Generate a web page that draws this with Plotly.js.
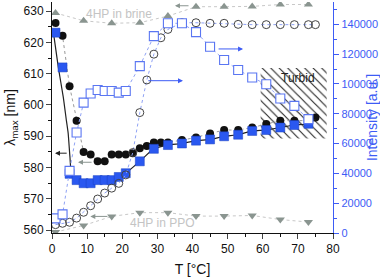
<!DOCTYPE html>
<html><head><meta charset="utf-8">
<script src="https://cdn.plot.ly/plotly-3.0.1.min.js"></script>
<style>html,body{margin:0;padding:0;background:#fff}#chart{width:380px;height:277px}</style>
</head><body><div id="chart"></div>
<script>
// λmax (left axis) – filled black circles
const circT = [1,3,5,7,9,11,13,15,17,19,21,23,25,27,29,31,33,37,41,45,49,53,57,61,65,69,73,75];
const circL = [626.2,622.1,606,595,585,584.2,582,582,584.2,584.2,584.2,584.6,586.2,586.9,588,588,588,588.8,589.6,590.9,592,592,592.8,593.9,595,595,595,596];
// λmax (left axis) – filled blue squares
const sqT = [1,3,5,7,9,11,13,15,17,19,21,25,29,33,37,41,45,49,53,57,61,65,69,73];
const sqL = [623.1,612,578,576,575,575,576,576,576,577,578.2,582,586,587.2,587.7,588.6,589,590,590.5,591.7,592,592.8,593.6,594];
// black solid guide curve
const fitT = [0.3,1.8,3.2,4.1,4.6,5.1,5.6,7,9,11,13,15,17,19,21,25,29,33,37,41,45,49,53,57,61,65,69,73,75];
const fitL = [624,612,602.6,595,591,583.5,577.6,576,575,575,576,576,576,577,578.2,582,586,587.2,587.7,588.6,589,590,590.5,591.7,592,592.8,593.6,594,595.5];
// Intensity (right axis) – open circles
const ocT = [1,3,5,7,9,11,13,15,17,19,21,23,25,27,29,31,33,37,41,45,49,53,57,61,65,69,73,75];
const ocI = [5600,6500,7200,10000,13900,18300,22800,26800,30100,33300,39000,54000,80800,102700,120000,131000,136600,141100,141100,140700,140700,140000,139800,139800,139800,139800,139800,139800];
// Intensity (right axis) – open squares
const osT = [1,3,5,7,9,11,13,15,17,19,21,25,29,33,37,41,45,49,53,57,61,65,69,73];
const osI = [9800,12500,41700,67400,87500,93600,96000,95300,95300,94200,95300,112000,132100,140700,140700,134800,125000,116100,109400,104300,99800,90200,85300,76400];
// 4HP in brine (left axis)
const brineT = [1,9,17,25,33,41,49,57,65,73];
const brineL = [629.4,626.9,626.1,626.3,628.4,631.4,631.4,631.5,632.1,632.1];
// 4HP in PPO (left axis)
const ppoT = [1,9,17,25,33,41,49,57,65,73];
const ppoL = [559.4,561.5,564.4,565.6,565.6,564.5,564.5,564.7,563.4,562.6];
// turbid region
const turbidT = [59.4,78.2];
const turbidL = [589.3,611.8];
// tick labels
const xTicks = [0,10,20,30,40,50,60,70,80];
const yTicks = [560,570,580,590,600,610,620,630];
const y2Ticks = [0,20000,40000,60000,80000,100000,120000,140000];

const BLUE = '#3d5cf5';
const GRAY = '#8a9590';
const FONT = 'Liberation Sans, Arial, sans-serif';

const traces = [
  {x:[turbidT[0],turbidT[1],turbidT[1],turbidT[0],turbidT[0]], y:[turbidL[1],turbidL[1],turbidL[0],turbidL[0],turbidL[1]],
   mode:'lines', fill:'toself', line:{width:0,color:'rgba(0,0,0,0)'}, fillcolor:'rgba(0,0,0,0)',
   fillpattern:{shape:'\\', size:6, solidity:0.18, fgcolor:'#222', bgcolor:'rgba(255,255,255,0)'},
   hoverinfo:'skip', xaxis:'x', yaxis:'y'},
  {x:brineT, y:brineL, mode:'lines+markers', line:{color:'#c8c8c8', width:1, dash:'dot'},
   marker:{symbol:'triangle-up', size:8, color:GRAY}},
  {x:ppoT, y:ppoL, mode:'lines+markers', line:{color:'#c8c8c8', width:1, dash:'dot'},
   marker:{symbol:'triangle-down', size:8, color:GRAY}},
  {x:ocT, y:ocI, yaxis:'y2', mode:'lines+markers', line:{color:'#8fa2f5', width:1, dash:'dot'},
   marker:{symbol:'circle-open', size:8, color:'#444', line:{width:1}}},
  {x:osT, y:osI, yaxis:'y2', mode:'lines+markers', line:{color:'#8fa2f5', width:1, dash:'dot'},
   marker:{symbol:'square', size:9, color:'#fff', line:{width:1.1, color:'#5a76f2'}}},
  {x:circT, y:circL, mode:'lines+markers', line:{color:'#999', width:1, dash:'dot'},
   marker:{symbol:'circle', size:8, color:'#111'}},
  {x:fitT, y:fitL, mode:'lines', line:{color:'#222', width:1.2, shape:'spline', smoothing:0.5}},
  {x:sqT, y:sqL, mode:'markers', marker:{symbol:'square', size:9, color:'#2a58f0', line:{width:0.5, color:'#1a40c0'}}}
];

const annotations = [
  {xref:'x', yref:'y', x:19.2, y:629.2, text:'4HP in brine', showarrow:false, font:{size:12,color:'#c4c4c4',family:FONT}},
  {xref:'x', yref:'y', x:31.3, y:562.4, text:'4HP in PPO', showarrow:false, font:{size:12,color:'#c4c4c4',family:FONT}},
  {xref:'x', yref:'y', x:70, y:608.7, text:'Turbid', showarrow:false, font:{size:12,color:'#222',family:FONT}},
  {xref:'x', yref:'y', x:0.85, y:584.6, ax:4.6, ay:584.6, axref:'x', ayref:'y', text:'', showarrow:true, arrowhead:2, arrowsize:1, arrowwidth:1, arrowcolor:'#222'},
  {xref:'x', yref:'y', x:7.4, y:581.7, ax:11.7, ay:581.7, axref:'x', ayref:'y', text:'', showarrow:true, arrowhead:2, arrowsize:1, arrowwidth:1, arrowcolor:GRAY},
  {xref:'x', yref:'y', x:35.0, y:631.7, ax:39.3, ay:631.7, axref:'x', ayref:'y', text:'', showarrow:true, arrowhead:2, arrowsize:1, arrowwidth:1, arrowcolor:GRAY},
  {xref:'x', yref:'y', x:10.9, y:564.4, ax:16.2, ay:564.4, axref:'x', ayref:'y', text:'', showarrow:true, arrowhead:2, arrowsize:1, arrowwidth:1, arrowcolor:GRAY},
  {xref:'x', yref:'y2', x:37.3, y:102200, ax:27.0, ay:102200, axref:'x', ayref:'y2', text:'', showarrow:true, arrowhead:2, arrowsize:1, arrowwidth:1, arrowcolor:BLUE},
  {xref:'x', yref:'y2', x:54.4, y:123500, ax:47.0, ay:123500, axref:'x', ayref:'y2', text:'', showarrow:true, arrowhead:2, arrowsize:1, arrowwidth:1, arrowcolor:BLUE}
];

const layout = {
  width:380, height:277,
  margin:{l:52, r:47, t:2, b:44},
  paper_bgcolor:'#fff', plot_bgcolor:'#fff',
  showlegend:false,
  font:{family:FONT, size:12, color:'#111'},
  xaxis:{range:[0,80], tickvals:xTicks, ticktext:xTicks.map(String), ticks:'outside', ticklen:5, tickwidth:1,
    showline:true, linecolor:'#111', linewidth:1, showgrid:false, zeroline:false,
    minor:{dtick:5, ticks:'outside', ticklen:3, tickcolor:'#111'},
    tickfont:{size:12}, title:{text:'T [°C]', font:{size:14}, standoff:8}},
  yaxis:{range:[559.1,632.9], tickvals:yTicks, ticktext:yTicks.map(String), ticks:'outside', ticklen:5, tickwidth:1,
    showline:true, linecolor:'#111', linewidth:1, showgrid:false, zeroline:false,
    minor:{dtick:5, ticks:'outside', ticklen:3, tickcolor:'#111'},
    tickfont:{size:12}, title:{text:'λ<sub>max</sub> [nm]', font:{size:14}, standoff:4}},
  yaxis2:{range:[0,155000], overlaying:'y', side:'right', tickvals:y2Ticks, ticktext:y2Ticks.map(String),
    ticks:'outside', ticklen:5, tickwidth:1, tickcolor:BLUE,
    showline:true, linecolor:BLUE, linewidth:1.2, showgrid:false, zeroline:false,
    minor:{dtick:10000, ticks:'outside', ticklen:3, tickcolor:BLUE},
    tickfont:{size:11, color:BLUE}, title:{text:'Intensity [a.u.]', font:{size:14, color:BLUE}, standoff:2}},
  annotations:annotations
};
Plotly.newPlot('chart', traces, layout, {staticPlot:true, displayModeBar:false});
</script></body></html>
